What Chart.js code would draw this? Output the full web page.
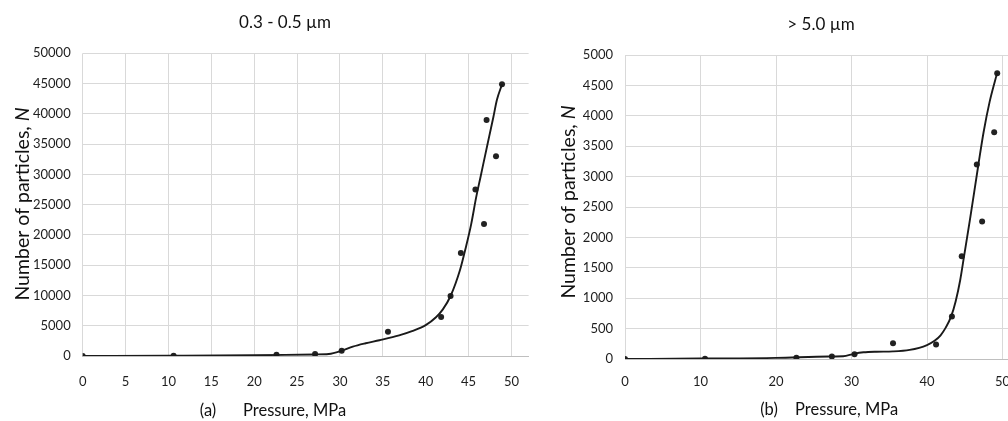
<!DOCTYPE html>
<html>
<head>
<meta charset="utf-8">
<script src="https://cdn.jsdelivr.net/npm/chart.js@4.4.1/dist/chart.umd.min.js"></script>
<style>
  html, body { margin: 0; padding: 0; background: #fff; overflow: hidden; }
  body { width: 1008px; height: 421px; position: relative; }
  .box { position: absolute; top: 0; height: 421px; }
  #boxA { left: 0; width: 570px; }
  #boxB { left: 545px; width: 552px; }
</style>
</head>
<body>
<div class="box" id="boxA"><canvas id="chartA"></canvas></div>
<div class="box" id="boxB"><canvas id="chartB"></canvas></div>
<script>
// (a) 0.3 - 0.5 µm : measured points
const pressureA = [0, 10.6, 22.6, 27.1, 30.2, 35.6, 41.8, 42.9, 44.1, 45.8, 46.8, 47.1, 48.2, 48.9]
const countA    = [0, 30, 200, 330, 850, 4000, 6450, 9900, 17000, 27500, 21800, 39000, 33000, 44900]
// (a) trend line
const fitPressureA = [0, 10, 20, 27, 28.7, 30.2, 31.5, 33, 34.6, 36.9, 38.4, 40.0, 41.2, 42.0, 42.9, 44.0, 44.7, 45.3, 45.9, 46.4, 46.9, 47.4, 47.9, 48.3, 48.9]
const fitCountA    = [0, 40, 120, 260, 320, 850, 1540, 2100, 2600, 3400, 4100, 5100, 6400, 7700, 9910, 14200, 18060, 21750, 26320, 29620, 32930, 36230, 39530, 42290, 44870]
const xTicksA = [0, 5, 10, 15, 20, 25, 30, 35, 40, 45, 50]
const yTicksA = [0, 5000, 10000, 15000, 20000, 25000, 30000, 35000, 40000, 45000, 50000]

// (b) > 5.0 µm : measured points
const pressureB = [0, 10.6, 22.7, 27.4, 30.4, 35.5, 41.2, 43.3, 44.6, 46.6, 47.3, 48.9, 49.3]
const countB    = [0, 5, 20, 40, 80, 260, 240, 700, 1690, 3200, 2260, 3730, 4700]
// (b) trend line
const fitPressureB = [0, 10, 20, 27, 28.9, 30.3, 31.6, 33.3, 35.5, 37.7, 40, 41, 41.8, 42.5, 43.2, 43.8, 44.4, 44.9, 45.7, 46.8, 47.5, 48.3, 49.3]
const fitCountB    = [0, 8, 18, 42, 45, 85, 110, 120, 125, 150, 230, 300, 390, 520, 700, 950, 1300, 1683, 2300, 3191, 3734, 4233, 4710]
const xTicksB = [0, 10, 20, 30, 40, 50]
const yTicksB = [0, 500, 1000, 1500, 2000, 2500, 3000, 3500, 4000, 4500, 5000]

const FONT = 'Lato'

// titles drawn straight on the canvas (italic N in the y title)
const textPlugin = {
  id: 'texts',
  afterDraw(chart, args, o) {
    const ctx = chart.ctx
    ctx.save()
    ctx.fillStyle = '#111'
    ctx.textBaseline = 'middle'

    ctx.font = `17px ${FONT}`
    ctx.textAlign = 'center'
    ctx.fillText(o.title, o.titleX, o.titleY)

    ctx.font = `16.5px ${FONT}`
    ctx.fillText(o.tag, o.tagX, o.xTitleY)
    ctx.textAlign = 'left'
    ctx.fillText('Pressure, MPa', o.pressX, o.xTitleY)

    const head = 'Number of particles, '
    ctx.font = `19.5px ${FONT}`
    const w1 = ctx.measureText(head).width
    ctx.font = `italic 19.5px ${FONT}`
    const w2 = ctx.measureText('N').width
    ctx.translate(o.yTitleX, o.yTitleY)
    ctx.rotate(-Math.PI / 2)
    const x0 = -(w1 + w2) / 2
    ctx.font = `19.5px ${FONT}`
    ctx.fillText(head, x0, 0)
    ctx.font = `italic 19.5px ${FONT}`
    ctx.fillText('N', x0 + w1, 0)
    ctx.restore()
  }
}

function makeChart(id, c) {
  const pts = c.px.map((x, i) => ({ x, y: c.py[i] }))
  const fit = c.fx.map((x, i) => ({ x, y: c.fy[i] }))
  return new Chart(document.getElementById(id), {
    type: 'scatter',
    data: {
      datasets: [
        { data: fit, showLine: true, pointRadius: 0, borderColor: '#1a1a1a', borderWidth: 1.9,
          cubicInterpolationMode: 'monotone', fill: false },
        { data: pts, pointRadius: 3, pointBackgroundColor: '#222', pointBorderWidth: 0 },
      ]
    },
    options: {
      responsive: true, maintainAspectRatio: false, animation: false,
      layout: { padding: { top: c.top, right: c.padRight, left: 0, bottom: 0 } },
      plugins: { legend: { display: false }, tooltip: { enabled: false }, texts: c.texts },
      scales: {
        x: {
          type: 'linear', min: 0, max: c.xMax,
          afterBuildTicks: s => { s.ticks = c.xTicks.map(v => ({ value: v })) },
          afterFit: s => { s.height = c.xHeight },
          ticks: { autoSkip: false, maxRotation: 0, padding: c.xPad, color: '#1e1e1e',
                   font: { family: FONT, size: 13 }, callback: v => String(v) },
          grid: { color: '#d9d9d9', drawTicks: false },
          border: { color: '#bfbfbf' },
        },
        y: {
          min: 0, max: c.yMax,
          afterBuildTicks: s => { s.ticks = c.yTicks.map(v => ({ value: v })) },
          afterFit: s => { s.width = c.yWidth },
          ticks: { autoSkip: false, padding: 12, color: '#1e1e1e',
                   font: { family: FONT, size: 13 }, callback: v => String(v) },
          grid: { color: '#d9d9d9', drawTicks: false },
          border: { display: false },
        }
      }
    },
    plugins: [textPlugin]
  })
}

makeChart('chartA', {
  px: pressureA, py: countA, fx: fitPressureA, fy: fitCountA,
  xTicks: xTicksA, yTicks: yTicksA, xMax: 52, yMax: 50000,
  top: 53.3, padRight: 41.4, yWidth: 82.7, xHeight: 65, xPad: 18,
  texts: { title: '0.3 - 0.5 \u00b5m', titleX: 285, titleY: 23, tag: '(a)', tagX: 208, pressX: 243,
           xTitleY: 411, yTitleX: 23, yTitleY: 204 }
})

makeChart('chartB', {
  px: pressureB, py: countB, fx: fitPressureB, fy: fitCountB,
  xTicks: xTicksB, yTicks: yTicksB, xMax: 52, yMax: 5000,
  top: 55, padRight: 79.4, yWidth: 80, xHeight: 62, xPad: 15,
  texts: { title: '> 5.0 \u00b5m', titleX: 276, titleY: 25, tag: '(b)', tagX: 224, pressX: 250,
           xTitleY: 410, yTitleX: 24, yTitleY: 202 }
})
</script>
</body>
</html>
